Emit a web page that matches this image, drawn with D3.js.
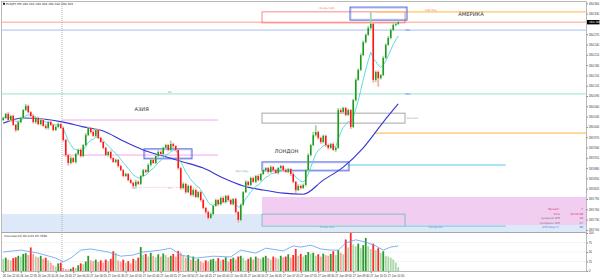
<!DOCTYPE html>
<html>
<head>
<meta charset="utf-8">
<script src="https://cdn.jsdelivr.net/npm/d3@7"></script>
<style>
  body { margin: 0; background: #fff; }
  svg { display: block; font-family: "DejaVu Sans", sans-serif; }
</style>
</head>
<body>
<svg id="chart"></svg>
<script>
// EURJPY M5 bars (open = previous close)
const firstOpen = 184.020;
const closes = [
  184.026,184.038,184.020,184.032,184.006,183.991,184.014,184.026,184.049,184.061,
  184.043,184.032,184.014,184.026,184.008,184.020,184.003,183.997,184.014,184.006,
  183.991,184.000,184.008,183.997,183.962,183.918,183.895,183.909,183.898,183.921,
  183.933,183.915,183.947,183.976,183.997,183.985,183.974,183.991,183.968,183.956,
  183.939,183.918,183.927,183.909,183.898,183.904,183.886,183.874,183.857,183.863,
  183.845,183.837,183.828,183.840,183.834,183.857,183.874,183.869,183.889,183.904,
  183.895,183.915,183.927,183.921,183.939,183.947,183.933,183.950,183.944,183.933,
  183.880,183.822,183.834,183.810,183.828,183.802,183.816,183.796,183.810,183.787,
  183.764,183.752,183.735,183.746,183.770,183.787,183.775,183.793,183.781,183.799,
  183.787,183.775,183.790,183.752,183.729,183.773,183.810,183.840,183.831,183.851,
  183.840,183.857,183.845,183.863,183.874,183.880,183.869,183.883,183.874,183.866,
  183.880,183.886,183.874,183.869,183.877,183.863,183.840,183.816,183.828,183.822,
  183.831,183.874,183.918,183.947,183.976,183.985,183.968,183.956,183.974,183.947,
  183.939,183.950,183.933,183.939,184.049,184.043,184.055,184.035,184.049,184.000,
  184.078,184.137,184.166,184.209,184.247,184.268,184.288,184.300,184.137,184.160,
  184.142,184.151,184.201,184.239,184.259,184.282,184.297,184.300,184.305
];
// wicks in points (0.001) above max(open, close) / below min(open, close)
const wickUp = [
  4,3,5,3,4,3,5,4,3,6, 4,3,5,3,4,3,4,6,3,4, 3,4,5,3,4,3,4,6,3,4, 4,5,3,6,4,3,5,4,3,3,
  3,4,3,5,3,4,3,4,3,4, 3,4,3,6,4,3,4,3,5,3, 4,3,5,4,3,4,3,10,4,3, 3,4,5,3,4,3,5,4,3,4,
  4,3,4,5,3,4,3,4,5,3, 3,4,3,4,3,4,3,5,3,4, 4,3,5,3,4,3,4,5,3,4, 3,4,3,5,4,3,4,3,5,4,
  4,3,5,4,10,20,4,3,4,3, 4,3,5,3,6,5,4,3,4,3, 4,5,4,6,5,4,6,35,5,4, 4,3,5,4,6,5,4,6,4
];
const wickDn = [
  3,4,3,5,3,6,3,4,4,3, 4,3,4,5,3,4,3,4,5,3, 4,3,4,3,5,6,8,4,3,5, 3,4,3,4,3,4,3,5,4,3,
  4,3,5,4,3,4,5,3,4,3, 4,3,8,4,3,4,3,4,3,4, 3,4,3,4,3,4,4,3,5,4, 5,6,4,5,3,4,5,3,4,5,
  4,6,5,3,4,3,5,4,3,4, 4,3,4,5,8,4,3,3,4,3, 3,4,3,4,3,4,5,3,4,3, 4,3,5,3,4,6,4,8,3,4,
  3,4,3,4,3,4,5,6,4,5, 5,4,3,6,3,4,5,4,3,6, 3,4,3,4,3,4,3,4,8,6, 25,4,3,4,3,4,3,4,3
];
const volumes = [
  32,35,30,28,34,36, 40,38,45,47, 42,62,45,38, 36,40,32,35, 28,22,15,12,20,22,
  8,5,4,6,10,8, 15,20,18,25, 40,28,26,30, 24,28,22,30,26,32, 52,48,
  28,24,30,22,26,20,32,28,35,63, 42,45,38,48,40,36,44,38,46,42,36,40,
  45,38,53,48, 40,35,42,30,38,28,32,25, 22,28,25,30,32,26,34,28,30,36,25,32,
  35,30,38,40,34,28,32,36, 30,38,34,32,36,40,34,30,38,35, 32,40,36,38,44,35,42,58,
  40,45,38,42,50,46,48,40,44,38,46,42, 40,45,52,42,55,48,44,83, 62,100,70,65,
  72,60,68,87,65, 58,72,55,60,48, 52,40,38,35,30,22,10
];
// slow moving average (blue), read at these bars
const maBars   = [0,8,16,24,32,40,48,56,64,72,80,88,96,104,112,120,128,136,144,152,158];
const maValues = [184.011,184.026,184.023,184.014,184.000,183.988,183.959,183.933,183.915,183.898,
                  183.880,183.851,183.828,183.816,183.807,183.804,183.845,183.883,183.939,184.014,184.067];
// volume average line, read at these bars
const volAvgBars = [0,7,14,21,24,27,31,35,42,47,52,56,63,67,71,77,84,91,95,101,105,112,116,119,123,127,131,134,137,141,145,149,152,155,158];
const volAvgValues = [50,55,47,34,24,34,55,58,50,39,42,50,55,60,42,34,39,37,55,47,60,53,66,63,68,58,55,55,74,82,76,66,55,63,66];

const priceTicks = [184.360,184.330,184.300,184.270,184.240,184.210,184.180,184.150,184.120,184.090,184.060,184.030,
                    184.000,183.970,183.940,183.910,183.880,183.850,183.820,183.790,183.760,183.730,183.700];
const volumeTicks = [100, 75, 50, 25, 0];
const timeBars = [0,7,14,21,28,35,42,49,56,63,70,77,84,91,98,105,112,119,126,133,140,147,154];
const timeLabels = ["26 Jun 22:00","26 Jun 22:35","26 Jun 23:10","26 Jun 23:45","27 Jun 00:20","27 Jun 00:55",
  "27 Jun 01:30","27 Jun 02:05","27 Jun 02:40","27 Jun 03:15","27 Jun 03:50","27 Jun 04:25","27 Jun 05:00",
  "27 Jun 05:35","27 Jun 06:10","27 Jun 06:45","27 Jun 07:20","27 Jun 07:55","27 Jun 08:30","27 Jun 09:05",
  "27 Jun 09:40","27 Jun 10:15","27 Jun 10:50"];

// levels and zones: [fromBar, toBar, priceTop, priceBottom]
const asiaBox    = [56.3, 75.5, 183.936, 183.907];
const londonBox  = [103.5, 138.3, 183.898, 183.872];
const americaBox = [138.7, 161.5, 184.349, 184.311];
const prevHighBox = [103.5, 160.7, 184.335, 184.303];
const rangeBox   = [103.5, 160.7, 184.040, 184.011];
const prevLowBox = [103.5, 160.7, 183.746, 183.711];
const pinkZone   = [103.5, 240, 183.796, 183.714];
const blueZone   = [-1, 240, 183.746, 183.600];
const asiaHigh = 184.020, asiaLow = 183.918;
const pdl = 184.282, pdh = 184.096, dayHigh = 184.335, dayMid = 183.982, londonLine = 183.889, s1 = 183.824;
const dayStartBar = 23.5;
const info = [["Spread :", "7"], ["time", "00:03:28"], ["дневной ATR", "28"], ["пройдено ATR", "67"], ["ATR Days 5 :", "88"]];

const W = 600, H = 279;
const svg = d3.select('#chart').attr('width', W).attr('height', H);

const x = d3.scaleLinear().domain([-0.5, 233.1]).range([2, 586]);
const y = d3.scaleLinear().domain([183.70, 184.36]).range([229.9, 3.3]);
const yv = d3.scaleLinear().domain([0, 100]).range([271, 233]);

const bars = closes.map((c, i) => {
  const o = i === 0 ? firstOpen : closes[i - 1];
  return { i, o, c, h: Math.max(o, c) + wickUp[i] * 0.001, l: Math.min(o, c) - wickDn[i] * 0.001, v: volumes[i] };
});

// fast EMA (cyan)
const k = 2 / (8 + 1);
let e = closes[0];
const ema = closes.map(c => (e = e + k * (c - e)));

svg.append("defs").append("clipPath").attr("id", "mainclip")
  .append("rect").attr("x", 2).attr("y", 2).attr("width", 584).attr("height", 230);

const g = svg.append("g").attr("clip-path", "url(#mainclip)");

function zone(b, fill, stroke, sw) {
  return g.append("rect")
    .attr("x", x(b[0])).attr("y", y(b[2]))
    .attr("width", x(b[1]) - x(b[0])).attr("height", y(b[3]) - y(b[2]))
    .attr("fill", fill).attr("stroke", stroke || "none").attr("stroke-width", sw || 0);
}
function hline(p, from, to, color, w, dash) {
  return g.append("line")
    .attr("x1", x(from)).attr("x2", x(to)).attr("y1", y(p)).attr("y2", y(p))
    .attr("stroke", color).attr("stroke-width", w).attr("stroke-dasharray", dash || null);
}

zone(blueZone, "#dde9f9");
zone(pinkZone, "#f1cdf2");
zone(prevLowBox, "none", "#6ab7b7", 0.8);
hline(prevLowBox[3], prevLowBox[1], 201, "#78c6e0", 1);

// full width levels
hline(184.305, -1, 240, "#ffbfb0", 1.6);
hline(pdl, -1, 240, "#cbdaf8", 1.6);
hline(pdh, -1, 240, "#ace8dc", 1.2);

zone(prevHighBox, "none", "#ff6a6a", 0.8);
hline(dayHigh, 148.7, 240, "#ffc460", 1.2);
hline(dayMid, 148.7, 240, "#ffc460", 1.2);
hline(asiaHigh, dayStartBar, 85.9, "#f2a6f2", 1);
hline(asiaLow, dayStartBar, 85.9, "#f2a6f2", 1);
hline(s1, 51, 79, "#f6b6c6", 0.7, "1.5,1");
zone(rangeBox, "none", "#a6a6a6", 1);
hline(londonLine, 137.9, 201, "#90d8f2", 1.6);

// session boxes (double blue outline)
[asiaBox, londonBox, americaBox].forEach(b => {
  zone(b, "none", "#3d52d9", 0.9);
  g.append("rect")
    .attr("x", x(b[0]) + 1).attr("y", y(b[2]) + 1)
    .attr("width", x(b[1]) - x(b[0]) - 2).attr("height", y(b[3]) - y(b[2]) - 2)
    .attr("fill", "none").attr("stroke", "#8c9cf0").attr("stroke-width", 0.5);
});

// slow MA
g.append("path")
  .datum(maBars.map((b, i) => [b, maValues[i]]))
  .attr("fill", "none").attr("stroke", "#3434d6").attr("stroke-width", 1.1)
  .attr("d", d3.line().x(d => x(d[0])).y(d => y(d[1])).curve(d3.curveMonotoneX));

// fast EMA
g.append("path")
  .datum(ema)
  .attr("fill", "none").attr("stroke", "#4cd6dc").attr("stroke-width", 0.9)
  .attr("d", d3.line().x((d, i) => x(i)).y(d => y(d)));

// candles
const cg = g.append("g");
cg.selectAll("line.wick").data(bars).join("line")
  .attr("class", "wick")
  .attr("x1", d => x(d.i)).attr("x2", d => x(d.i))
  .attr("y1", d => y(d.h)).attr("y2", d => y(d.l))
  .attr("stroke", d => d.c >= d.o ? "#9fd89f" : "#ffaaaa").attr("stroke-width", 1.8);
cg.selectAll("rect.body").data(bars).join("rect")
  .attr("class", "body")
  .attr("x", d => x(d.i) - 0.75).attr("width", 1.5)
  .attr("y", d => y(Math.max(d.o, d.c)))
  .attr("height", d => Math.max(0.6, Math.abs(y(d.o) - y(d.c))))
  .attr("fill", d => d.c >= d.o ? "#1f9a1f" : "#ff1414");

// day separator
svg.append("line").attr("x1", x(dayStartBar)).attr("x2", x(dayStartBar)).attr("y1", 2).attr("y2", 271)
  .attr("stroke", "#9a9a9a").attr("stroke-width", 0.7).attr("stroke-dasharray", "1,1");

// annotations
function label(t, bx, p, color, size, anchor, weight) {
  return svg.append("text").attr("x", x(bx)).attr("y", y(p)).text(t)
    .attr("fill", color).attr("font-size", size).attr("text-anchor", anchor || "start")
    .attr("font-weight", weight || null);
}
label("АЗИЯ", 52.5, 184.047, "#333", 5.2);
label("ЛОНДОН", 108.5, 183.925, "#333", 5.2);
label("АМЕРИКА", 182, 184.322, "#333", 5.2);
label("Вчера High", 129.5, 184.343, "#ff6a6a", 2.6, "middle");
label("High Day", 171, 184.339, "#ff6a6a", 2.6, "middle");
label("PDL", 160.8, 184.278, "#5a7ff0", 2.6);
label("PDH", 160.8, 184.092, "#5a7ff0", 2.6);
label("R1", 66, 184.100, "#44aaaa", 2.6);
label("Боковик", 161.5, 184.022, "#aaa", 2.6);
label("Open Day", 98, 183.868, "#6ab7b7", 2.6, "end");
label("S1", 52, 183.819, "#66bbbb", 2.6);
label("S2", 66, 183.819, "#f29ab0", 2.6);
label("Вчера Low", 129.5, 183.705, "#44aaaa", 2.6, "middle");
label("Rising Low", 173, 183.705, "#44aaaa", 2.6, "middle");

// info panel
info.forEach((r, i) => {
  const col = i < 2 ? "#e03050" : (i === 4 ? "#4a7ff0" : "#777");
  svg.append("text").attr("x", 560).attr("y", 210 + i * 4.6).text(r[0])
    .attr("fill", col).attr("font-size", 2.8).attr("text-anchor", "end");
  svg.append("text").attr("x", 583).attr("y", 210 + i * 4.6).text(r[1])
    .attr("fill", col).attr("font-size", 2.8).attr("text-anchor", "end");
});

// title
svg.append("rect").attr("x", 3).attr("y", 2.8).attr("width", 2).attr("height", 2).attr("fill", "#222");
svg.append("text").attr("x", 6).attr("y", 5).text("EURJPY,M5  184.303 184.306 184.300 184.305")
  .attr("font-size", 2.9).attr("fill", "#222");

// volume panel
const vg = svg.append("g");
volumeTicks.slice(1, 4).forEach(t => {
  vg.append("line").attr("x1", 2).attr("x2", 586).attr("y1", yv(t)).attr("y2", yv(t))
    .attr("stroke", "#d0d0d0").attr("stroke-width", 0.5).attr("stroke-dasharray", "1,1");
});
vg.selectAll("rect").data(bars).join("rect")
  .attr("x", d => x(d.i) - 0.9).attr("width", 1.8)
  .attr("y", d => yv(d.v)).attr("height", d => yv(0) - yv(d.v))
  .attr("fill", d => {
    const up = d.c >= d.o;
    const strong = d.i > 0 && d.v > volumes[d.i - 1];
    return up ? (strong ? "#2a9a2a" : "#a6d8a6") : (strong ? "#ff2a2a" : "#ff9c9c");
  });
vg.append("path")
  .datum(volAvgBars.map((b, i) => [b, volAvgValues[i]]))
  .attr("fill", "none").attr("stroke", "#5a9ff2").attr("stroke-width", 0.8)
  .attr("d", d3.line().x(d => x(d[0])).y(d => yv(d[1])));
svg.append("text").attr("x", 4).attr("y", 236.5).text("Volumes(12)  80.0/24  65.7896")
  .attr("font-size", 2.9).attr("fill", "#333");

// frame
svg.append("rect").attr("x", 1.5).attr("y", 1.5).attr("width", 585).attr("height", 270)
  .attr("fill", "none").attr("stroke", "#a8a8a8").attr("stroke-width", 0.8);
svg.append("line").attr("x1", 1.5).attr("x2", 586.5).attr("y1", 232.5).attr("y2", 232.5)
  .attr("stroke", "#a8a8a8").attr("stroke-width", 1.2);

// price axis (the tick under the current price tag is hidden, as in the terminal)
const cp = closes[closes.length - 1];
const pa = svg.append("g").attr("transform", "translate(586.5,0)")
  .call(d3.axisRight(y).tickValues(priceTicks.filter(t => Math.abs(t - cp) > 0.012))
    .tickSize(1.5).tickFormat(d3.format(".3f")));
pa.select(".domain").remove();
pa.selectAll("text").attr("font-size", 2.9).attr("fill", "#333").attr("x", 2.2);
pa.selectAll("line").attr("stroke", "#888");

// current price tag
svg.append("rect").attr("x", 587).attr("y", y(cp) - 2.2).attr("width", 12.5).attr("height", 4.4).attr("fill", "#000");
svg.append("text").attr("x", 589).attr("y", y(cp) + 1).text(d3.format(".3f")(cp))
  .attr("font-size", 2.9).attr("fill", "#fff");

// volume axis
const va = svg.append("g").attr("transform", "translate(586.5,0)")
  .call(d3.axisRight(yv).tickValues(volumeTicks).tickSize(1.5));
va.select(".domain").remove();
va.selectAll("text").attr("font-size", 2.9).attr("fill", "#333").attr("x", 2.2);
va.selectAll("line").attr("stroke", "#888");

// time axis
const ta = svg.append("g").attr("transform", "translate(0,271.5)")
  .call(d3.axisBottom(x).tickValues(timeBars).tickSize(1.5).tickFormat((d, i) => timeLabels[i]));
ta.select(".domain").remove();
ta.selectAll("text").attr("font-size", 2.9).attr("fill", "#333").attr("text-anchor", "start").attr("dx", -1).attr("y", 3);
ta.selectAll("line").attr("stroke", "#888");
</script>
</body>
</html>
